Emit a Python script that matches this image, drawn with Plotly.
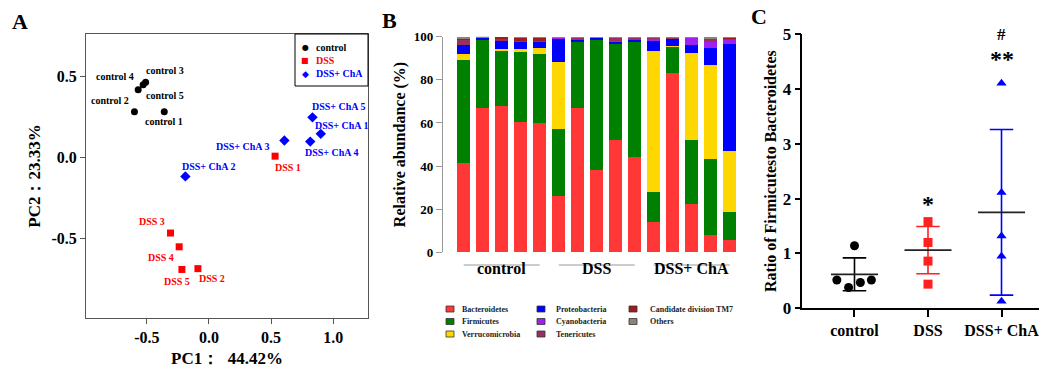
import plotly.graph_objects as go

W, H = 1039, 369
def px(x): return x / W
def py(y): return 1 - y / H

FONT = "Liberation Serif"
def b(t): return f"<b>{t}</b>"

# ---------------- Panel A data (PCA) ----------------
pca_groups = ["control", "DSS", "DSS+ ChA"]
pca_colors = ["black", "#ff0000", "#0000ff"]
pca_symbols = ["circle", "square", "diamond"]
pca_glyphs = ["●", "■", "◆"]
control_pc1 = [-0.36, -0.60, -0.51, -0.57, -0.53]
control_pc2 = [0.284, 0.284, 0.467, 0.42, 0.452]
dss_pc1 = [0.532, -0.089, -0.31, -0.24, -0.218]
dss_pc2 = [0.01, -0.685, -0.465, -0.55, -0.69]
cha_pc1 = [0.90, -0.19, 0.607, 0.815, 0.833]
cha_pc2 = [0.148, -0.115, 0.107, 0.10, 0.25]
sample_numbers = ["1", "2", "3", "4", "5"]
pc_ticks_x = [-0.5, 0.0, 0.5, 1.0]
pc_ticks_y = [-0.5, 0.0, 0.5]
# label offsets (pixels) - style only
control_shift = [(0, -10), (-24, 11), (19, 12), (-23, 13), (22, -11)]
dss_shift = [(13, -11), (14, -10), (-18, 12), (-18, -11), (-5, -12)]
cha_shift = [(21, 8), (24, 10), (-41, -6), (22, -11), (27, 11)]

# ---------------- Panel B data (relative abundance) ----------------
samples = [f"control {i}" for i in range(1, 6)] + [f"DSS {i}" for i in range(1, 6)] + [f"DSS+ ChA {i}" for i in range(1, 6)]
phyla = ["Bacteroidetes", "Firmicutes", "Verrucomicrobia", "Proteobacteria",
         "Cyanobacteria", "Tenericutes", "Candidate division TM7", "Others"]
phyla_colors = ["#ff3737", "#008000", "#ffd700", "#0000ff", "#a020f0", "#993060", "#9e1c1c", "#8c8478"]
Bacteroidetes = [41.3, 66.8, 67.9, 60.6, 60.0, 26.3, 67.1, 38.2, 51.9, 44.2, 14.2, 83.2, 22.3, 8.0, 5.9]
Firmicutes = [47.7, 32.1, 26.0, 32.2, 31.8, 30.9, 30.6, 60.4, 45.3, 53.9, 13.6, 12.2, 29.9, 35.1, 12.6]
Verrucomicrobia = [3.0, 0.0, 0.3, 1.3, 3.0, 31.1, 0.0, 0.0, 0.0, 0.0, 65.7, 0.5, 40.1, 43.6, 28.5]
Proteobacteria = [4.0, 0.7, 4.4, 3.6, 2.9, 10.9, 1.1, 1.0, 0.9, 0.8, 4.6, 3.5, 3.9, 8.2, 49.5]
Cyanobacteria = [0.0, 0.0, 0.0, 0.0, 0.0, 0.5, 0.1, 0.0, 0.1, 0.0, 1.4, 0.1, 3.6, 2.8, 2.3]
Tenericutes = [3.0, 0.1, 0.2, 0.2, 0.3, 0.2, 0.9, 0.2, 1.5, 0.9, 0.2, 0.4, 0.1, 1.8, 0.1]
TM7 = [0.2, 0.0, 1.2, 1.9, 1.8, 0.0, 0.1, 0.0, 0.1, 0.0, 0.0, 0.0, 0.0, 0.0, 1.0]
Others = [0.8, 0.4, 0.0, 0.2, 0.2, 0.1, 0.1, 0.2, 0.2, 0.2, 0.3, 0.1, 0.1, 0.5, 0.1]
phyla_values = [Bacteroidetes, Firmicutes, Verrucomicrobia, Proteobacteria,
                Cyanobacteria, Tenericutes, TM7, Others]
abundance_ticks = [0, 20, 40, 60, 80, 100]
group_names = ["control", "DSS", "DSS+ ChA"]
group_sizes = [5, 5, 5]

# ---------------- Panel C data (F/B ratio) ----------------
ratio_control = [0.515, 0.38, 0.47, 0.515, 1.14]
ratio_dss = [1.58, 1.20, 0.86, 0.44]
ratio_cha = [4.10, 2.11, 1.32, 0.95, 0.13]
ratio_means = [0.62, 1.06, 1.75]
ratio_sds = [0.30, 0.43, 1.51]
ratio_ticks = [0, 1, 2, 3, 4, 5]
ratio_colors = ["black", "#ff2020", "#0000ff"]
ratio_symbols = ["circle", "square", "triangle-up"]
control_dx = [-0.24, -0.08, 0.08, 0.23, 0.0]   # horizontal spread (style)
sig_marks = ["", "*", "**"]
sig_marks2 = ["", "", "#"]

fig = go.Figure()
annotations = []
shapes = []

# ---- Panel A traces ----
pca_x = [control_pc1, dss_pc1, cha_pc1]
pca_y = [control_pc2, dss_pc2, cha_pc2]
pca_shifts = [control_shift, dss_shift, cha_shift]
pca_sizes = [7, 7, 8]
for g, name in enumerate(pca_groups):
    fig.add_trace(go.Scatter(
        x=pca_x[g], y=pca_y[g], mode="markers", name=name,
        marker=dict(color=pca_colors[g], symbol=pca_symbols[g], size=pca_sizes[g], line=dict(width=0)),
        xaxis="x", yaxis="y", showlegend=False))
    for i in range(5):
        annotations.append(dict(
            x=pca_x[g][i], y=pca_y[g][i], xref="x", yref="y",
            text=b(f"{name} {sample_numbers[i]}"), showarrow=False,
            xshift=pca_shifts[g][i][0], yshift=pca_shifts[g][i][1],
            font=dict(family=FONT, size=10, color=pca_colors[g])))

# legend box for panel A
shapes.append(dict(type="rect", xref="paper", yref="paper",
                   x0=px(295), x1=px(368), y0=py(86), y1=py(34),
                   fillcolor="white", line=dict(color="black", width=1), layer="above"))
legA_rows = [47.5, 60.5, 73.5]
legA_glyph_size = [8, 8, 9]
for g, name in enumerate(pca_groups):
    annotations.append(dict(x=px(305), y=py(legA_rows[g]), xref="paper", yref="paper",
                            text=pca_glyphs[g], showarrow=False, xanchor="center", yanchor="middle",
                            font=dict(family="DejaVu Sans", size=legA_glyph_size[g], color=pca_colors[g])))
    annotations.append(dict(x=px(314), y=py(legA_rows[g]), xref="paper", yref="paper",
                            text=b(name), showarrow=False, xanchor="left", yanchor="middle",
                            font=dict(family=FONT, size=10, color=pca_colors[g])))

# ---- Panel B traces ----
for p, name in enumerate(phyla):
    fig.add_trace(go.Bar(
        x=samples, y=phyla_values[p], name=name,
        marker=dict(color=phyla_colors[p], line=dict(width=0)),
        xaxis="x2", yaxis="y2", showlegend=False))

start = 0
for gname, n in zip(group_names, group_sizes):
    shapes.append(dict(type="line", xref="x2", yref="paper",
                       x0=start, x1=start + n - 1, y0=py(265), y1=py(265),
                       line=dict(color="#999999", width=1)))
    annotations.append(dict(x=start + (n - 1) / 2, y=py(279), xref="x2", yref="paper",
                            text=b(gname), showarrow=False,
                            font=dict(family=FONT, size=16, color="black")))
    start += n

# manual legend for panel B (3 columns, column-major)
col_sw = [446, 537, 629]
col_tx = [460, 554, 648]
row_y = [309, 321.5, 334]
for p, name in enumerate(phyla):
    c, r = divmod(p, 3)
    shapes.append(dict(type="rect", xref="paper", yref="paper",
                       x0=px(col_sw[c]), x1=px(col_sw[c] + 8),
                       y0=py(row_y[r] + 3), y1=py(row_y[r] - 3),
                       fillcolor=phyla_colors[p], line=dict(color="#333333", width=0.8)))
    annotations.append(dict(x=px(col_tx[c]), y=py(row_y[r]), xref="paper", yref="paper",
                            xanchor="left", yanchor="middle", text=b(name), showarrow=False,
                            font=dict(family=FONT, size=8, color="#222222")))

# ---- Panel C traces ----
ratio_data = [ratio_control, ratio_dss, ratio_cha]
ratio_dx = [control_dx, [0] * len(ratio_dss), [0] * len(ratio_cha)]
for g in range(3):
    fig.add_trace(go.Scatter(
        x=[g + d for d in ratio_dx[g]], y=ratio_data[g], mode="markers",
        marker=dict(color=ratio_colors[g], symbol=ratio_symbols[g], size=9, line=dict(width=0)),
        xaxis="x3", yaxis="y3", showlegend=False, cliponaxis=False))
    m, s = ratio_means[g], ratio_sds[g]
    fig.add_trace(go.Scatter(
        x=[g, g, None, g - 0.16, g + 0.16, None, g - 0.16, g + 0.16],
        y=[m - s, m + s, None, m + s, m + s, None, m - s, m - s],
        mode="lines", line=dict(color=ratio_colors[g], width=1.6),
        xaxis="x3", yaxis="y3", showlegend=False, hoverinfo="skip"))
    fig.add_trace(go.Scatter(
        x=[g - 0.32, g + 0.32], y=[m, m], mode="lines",
        line=dict(color="#222222", width=1.8),
        xaxis="x3", yaxis="y3", showlegend=False, hoverinfo="skip"))

annotations.append(dict(x=1, y=1.9, xref="x3", yref="y3", text=b(sig_marks[1]), showarrow=False,
                        font=dict(family=FONT, size=24, color="black")))
annotations.append(dict(x=2, y=4.54, xref="x3", yref="y3", text=b(sig_marks[2]), showarrow=False,
                        font=dict(family=FONT, size=24, color="black")))
annotations.append(dict(x=2, y=py(23), xref="x3", yref="paper", text=b(sig_marks2[2]), showarrow=False,
                        font=dict(family=FONT, size=17, color="black")))

# panel letters
for letter, (lx, ly) in zip(["A", "B", "C"], [(20, 22), (389, 21), (759, 16)]):
    annotations.append(dict(x=px(lx), y=py(ly), xref="paper", yref="paper", text=b(letter),
                            showarrow=False, xanchor="center", yanchor="middle",
                            font=dict(family=FONT, size=22, color="black")))

tickA = dict(family=FONT, size=16, color="black")
fig.update_layout(
    template="none",
    width=W, height=H, margin=dict(l=0, r=0, t=0, b=0, autoexpand=False),
    paper_bgcolor="white", plot_bgcolor="white",
    font=dict(family=FONT, color="black"),
    barmode="stack", bargap=0.33, showlegend=False,
    xaxis=dict(domain=[px(86), px(368)], range=[-0.99, 1.28], anchor="y", automargin=False,
               tickvals=pc_ticks_x, ticktext=[b(f"{v:.1f}") for v in pc_ticks_x], tickfont=tickA,
               showline=True, mirror=True, linecolor="#555555", linewidth=1,
               ticks="outside", ticklen=5, tickcolor="#555555",
               showgrid=False, zeroline=False,
               title=dict(text=b("PC1：  44.42%"), font=dict(family=FONT, size=17), standoff=6)),
    yaxis=dict(domain=[py(318), py(34)], range=[-0.99, 0.765], anchor="x", automargin=False,
               tickvals=pc_ticks_y, ticktext=[b(f"{v:.1f}") for v in pc_ticks_y], tickfont=tickA,
               showline=True, mirror=True, linecolor="#555555", linewidth=1,
               ticks="outside", ticklen=5, tickcolor="#555555",
               showgrid=False, zeroline=False,
               title=dict(text=b("PC2：23.33%"), font=dict(family=FONT, size=17), standoff=6)),
    xaxis2=dict(domain=[px(443), px(740)], range=[-1.09, 14.54], anchor="y2", automargin=False,
                showticklabels=False, ticks="", showline=False, showgrid=False, zeroline=False),
    yaxis2=dict(domain=[py(252.3), py(36.7)], range=[0, 100], anchor="x2", automargin=False,
                tickvals=abundance_ticks, ticktext=[b(v) for v in abundance_ticks],
                tickfont=dict(family=FONT, size=13, color="black"),
                showline=True, linecolor="#999999", linewidth=1.2,
                ticks="outside", ticklen=6, tickcolor="#999999",
                showgrid=False, zeroline=False,
                title=dict(text=b("Relative abundance (%)"), font=dict(family=FONT, size=16), standoff=4)),
    xaxis3=dict(domain=[px(802.3), 1.0], range=[-0.71, 2.51], anchor="y3", automargin=False,
                tickvals=[0, 1, 2], ticktext=[b(g) for g in group_names], ticklabeloverflow="allow",
                tickfont=dict(family=FONT, size=16, color="black"),
                showline=True, linecolor="black", linewidth=1.5,
                ticks="outside", ticklen=7, tickwidth=1.5, tickcolor="black",
                showgrid=False, zeroline=False),
    yaxis3=dict(domain=[py(308.3), py(34)], range=[0, 5], anchor="x3", automargin=False,
                tickvals=ratio_ticks, ticktext=[b(v) for v in ratio_ticks],
                tickfont=dict(family=FONT, size=17, color="black"),
                showline=True, linecolor="black", linewidth=1.5,
                ticks="outside", ticklen=6, tickwidth=1.5, tickcolor="black",
                showgrid=False, zeroline=False,
                title=dict(text=b("Ratio of Firmicutesto Bacteroidetes"), font=dict(family=FONT, size=16), standoff=2)),
    shapes=shapes,
    annotations=annotations,
)

fig.write_html("out.html", config={"displayModeBar": False},
               post_script="document.body.style.margin='0';document.body.style.overflow='hidden';")
